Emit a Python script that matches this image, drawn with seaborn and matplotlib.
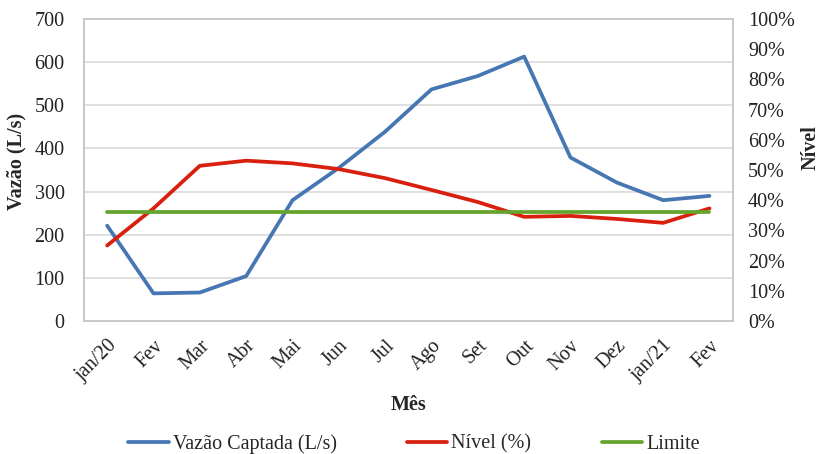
import matplotlib
matplotlib.use("Agg")
import matplotlib.pyplot as plt
import seaborn as sns
import pandas as pd
from matplotlib.ticker import FuncFormatter, MultipleLocator

# Monthly data
meses = ["jan/20", "Fev", "Mar", "Abr", "Mai", "Jun", "Jul", "Ago",
         "Set", "Out", "Nov", "Dez", "jan/21", "Fev"]
vazao = [221, 64, 66, 104, 280, 355, 439, 537, 568, 613, 379, 321, 280, 290]
nivel = [25.0, 37.3, 51.4, 53.1, 52.2, 50.3, 47.3, 43.4, 39.4, 34.5, 34.8, 33.8, 32.5, 37.3]
limite = [36.1] * len(meses)

df = pd.DataFrame({"pos": range(len(meses)), "mes": meses,
                   "vazao": vazao, "nivel": nivel, "limite": limite})

sns.set_style("white")
plt.rcParams["font.family"] = ["Liberation Serif", "DejaVu Serif"]

c_blue = "#4677b3"
c_red = "#d9200f"
c_green = "#65a42c"

fig = plt.figure(figsize=(8.26, 4.54), dpi=100)
ax = fig.add_axes([0.1017, 0.293, 0.7853, 0.665])
ax2 = ax.twinx()

sns.lineplot(data=df, x="pos", y="vazao", ax=ax, color=c_blue, lw=2.7,
             label="Vazão Captada (L/s)", legend=False)
sns.lineplot(data=df, x="pos", y="nivel", ax=ax2, color=c_red, lw=2.7,
             label="Nível (%)", legend=False)
sns.lineplot(data=df, x="pos", y="limite", ax=ax2, color=c_green, lw=2.7,
             label="Limite", legend=False)

ax.set_xlim(-0.5, len(meses) - 0.5)
ax.set_ylim(0, 700)
ax.yaxis.set_major_locator(MultipleLocator(100))
ax2.set_ylim(0, 100)
ax2.yaxis.set_major_locator(MultipleLocator(10))
ax2.yaxis.set_major_formatter(FuncFormatter(lambda v, p: f"{v:.0f}%"))

ax.set_xticks(range(len(meses)))
ax.set_xticklabels(meses, rotation=45, ha="right", rotation_mode="anchor")
ax.grid(axis="y", color="#d9d9d9", lw=1.2)
ax.grid(axis="x", visible=False)
ax2.grid(False)
ax.set_axisbelow(True)

for a in (ax, ax2):
    for s in a.spines.values():
        s.set_color("#c8c8c8")
        s.set_linewidth(1.2)
    a.tick_params(axis="both", length=0, labelsize=14.5, colors="#222222")

ax.tick_params(axis="y", pad=14)
ax2.tick_params(axis="y", pad=11)
ax.tick_params(axis="x", pad=11)
ax.set_xlabel("Mês", fontsize=14.5, fontweight="bold", labelpad=7)
ax.set_ylabel("Vazão (L/s)", fontsize=14.5, fontweight="bold")
ax2.set_ylabel("Nível", fontsize=14.5, fontweight="bold", rotation=90)
ax.yaxis.set_label_coords(-0.088, 0.53)
ax2.yaxis.set_label_coords(1.105, 0.575)

handles = ax.get_lines()[:1] + ax2.get_lines()[:2]
labels = ["Vazão Captada (L/s)", "Nível (%)", "Limite"]
fig.legend(handles, labels, loc="center", bbox_to_anchor=(414 / 826, 1 - 444 / 454),
           ncol=3, frameon=False, fontsize=14.5, handlelength=2.0, handletextpad=0.2,
           columnspacing=3.5)

fig.savefig("out.png", dpi=100)
